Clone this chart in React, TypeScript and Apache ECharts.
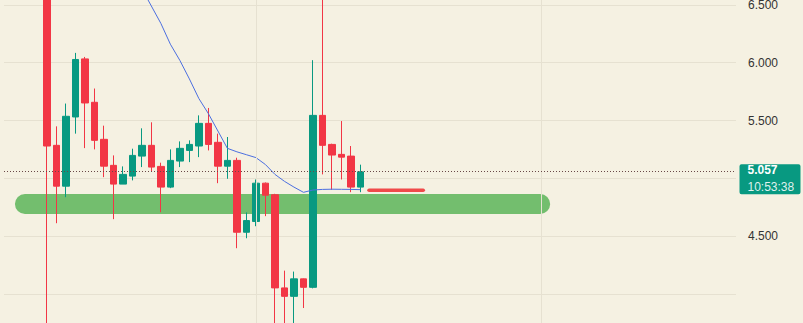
import React, { useEffect, useRef } from 'react';
import * as echarts from 'echarts';

// Candles (left to right)
const opens = [6.9, 5.286, 4.933, 5.531, 6.033, 5.658, 5.338, 5.113, 4.951, 5.02, 5.193, 5.286, 5.104, 4.925, 5.15, 5.242, 5.28, 5.476, 5.312, 5.106, 5.156, 4.535, 4.628, 4.959, 4.859, 4.054, 3.981, 4.132, 4.059, 5.545, 5.294, 5.208, 5.193, 4.925];
const closes = [5.28, 4.933, 5.537, 6.028, 5.652, 5.329, 5.106, 4.951, 5.035, 5.199, 5.286, 5.098, 4.925, 5.156, 5.26, 5.294, 5.476, 5.294, 5.106, 5.156, 4.535, 4.636, 4.959, 4.855, 4.054, 3.981, 4.132, 4.059, 5.545, 5.286, 5.202, 5.184, 4.925, 5.057];
const lows = [3.6, 4.613, 4.838, 5.387, 5.262, 5.251, 5.011, 4.648, 4.951, 4.983, 5.098, 5.063, 4.708, 4.916, 5.098, 5.141, 5.184, 5.242, 4.959, 4.997, 4.397, 4.483, 4.587, 4.674, 3.6, 3.6, 3.6, 3.88, 4.05, 5.035, 4.902, 4.991, 4.881, 4.881];
const highs = [6.95, 5.45, 5.647, 6.085, 6.05, 5.777, 5.456, 5.199, 5.104, 5.257, 5.433, 5.485, 5.136, 5.251, 5.32, 5.329, 5.545, 5.609, 5.387, 5.358, 5.179, 4.706, 4.991, 4.965, 4.867, 4.203, 4.195, 4.135, 6.022, 6.8, 5.3, 5.496, 5.28, 5.119];
// Moving average (blue line), '-' where not available
const maValues: (number | string)[] = ['-', '-', '-', '-', '-', '-', '-', '-', '-', 6.8, 6.64, 6.49, 6.34, 6.16, 6.02, 5.86, 5.69, 5.56, 5.41, 5.26, 5.23, 5.205, 5.18, 5.12, 5.035, 4.975, 4.925, 4.88, 4.9, 4.905, 4.907, 4.906, 4.905, 4.903];

const LEAD_EMPTY = 4;
const TOTAL_SLOTS = 77;
const lastPrice = 5.057;
const lastTime = '10:53:38';
const yTicksShown = [6.5, 6.0, 5.5, 4.5];
// Drawn annotations (in candle index / price units)
const supportBand = [[-2.3, 4.779], [51.9, 4.779]];
const targetLine = [[33.9, 4.898], [39.6, 4.898]];
const verticalGrid = [22, 52];

export default function App() {
  const ref = useRef<HTMLDivElement>(null);
  useEffect(() => {
    if (!ref.current) return;
    const chart = echarts.init(ref.current, null, { renderer: 'svg' });
    const cats: string[] = [];
    const kData: any[] = [];
    const maData: any[] = [];
    for (let i = 0; i < TOTAL_SLOTS; i++) {
      cats.push(String(i));
      const j = i - LEAD_EMPTY;
      if (j >= 0 && j < opens.length) {
        kData.push([opens[j], closes[j], lows[j], highs[j]]);
        maData.push(maValues[j]);
      } else {
        kData.push('-');
        maData.push('-');
      }
    }
    const bg = '#F5F1E2';
    chart.setOption({
      animation: false,
      backgroundColor: bg,
      grid: { left: 4, right: 67, top: 0, bottom: 0 },
      xAxis: [
        { type: 'category', data: cats, show: false, boundaryGap: true },
        { type: 'value', min: -LEAD_EMPTY - 0.5, max: TOTAL_SLOTS - LEAD_EMPTY - 0.5, show: false, splitLine: { show: false } },
      ],
      yAxis: {
        type: 'value',
        position: 'right',
        min: 3.5,
        max: 7.0,
        interval: 0.5,
        axisLine: { show: false },
        axisTick: { show: false },
        splitLine: { lineStyle: { color: '#E6E1D1', width: 1 } },
        axisLabel: {
          margin: 12,
          color: '#333333',
          fontSize: 12,
          fontFamily: 'Liberation Sans, Arial, sans-serif',
          formatter: (v: number) => (yTicksShown.some((t) => Math.abs(t - v) < 1e-6) ? v.toFixed(3) : ''),
        },
      },
      series: [
        {
          type: 'line',
          xAxisIndex: 1,
          data: [],
          z: 0,
          silent: true,
          markLine: {
            silent: true,
            symbol: 'none',
            label: { show: false },
            lineStyle: { color: '#E6E1D1', width: 1, type: 'solid' },
            data: verticalGrid.map((x) => ({ xAxis: x })),
          },
        },
        {
          type: 'line',
          xAxisIndex: 1,
          data: supportBand,
          symbol: 'none',
          z: 1,
          silent: true,
          lineStyle: { color: '#73BE6E', width: 20, cap: 'round' },
        },
        {
          type: 'line',
          xAxisIndex: 1,
          data: targetLine,
          symbol: 'none',
          z: 1,
          silent: true,
          lineStyle: { color: '#F04A4A', width: 3.6, cap: 'round' },
        },
        {
          type: 'candlestick',
          data: kData,
          barWidth: 7,
          z: 2,
          itemStyle: {
            color: '#089981',
            color0: '#F23645',
            borderColor: '#089981',
            borderColor0: '#F23645',
            borderWidth: 1,
          },
          markLine: {
            silent: true,
            symbol: 'none',
            label: { show: false },
            lineStyle: { color: '#6a4848', width: 1, type: [1, 2] },
            data: [{ yAxis: lastPrice }],
          },
        },
        {
          type: 'line',
          data: maData,
          symbol: 'none',
          z: 3,
          lineStyle: { color: '#4C6FE0', width: 1 },
        },
      ],
    });
    const py = chart.convertToPixel({ yAxisIndex: 0 }, lastPrice) as number;
    const rx = chart.convertToPixel({ xAxisIndex: 1 }, TOTAL_SLOTS - LEAD_EMPTY - 0.5) as number;
    chart.setOption({
      graphic: [
        {
          type: 'group',
          x: rx + 3.5,
          y: py,
          children: [
            { type: 'rect', shape: { x: 0, y: -7.5, width: 61, height: 30, r: 2 }, style: { fill: '#089981' } },
            {
              type: 'text',
              x: 8,
              y: -2,
              style: { text: lastPrice.toFixed(3), fill: '#ffffff', font: 'bold 12px Liberation Sans, Arial, sans-serif', textVerticalAlign: 'middle' },
            },
            {
              type: 'text',
              x: 8,
              y: 15,
              style: { text: lastTime, fill: 'rgba(255,255,255,0.88)', font: '12px Liberation Sans, Arial, sans-serif', textVerticalAlign: 'middle' },
            },
          ],
        },
      ],
    });
    return () => chart.dispose();
  }, []);
  return (
    <div style={{ position: 'absolute', left: 0, top: 0, width: 803, height: 323, overflow: 'hidden', background: '#F5F1E2' }}>
      <div ref={ref} style={{ position: 'absolute', left: 0, top: -53, width: 803, height: 405 }} />
    </div>
  );
}
